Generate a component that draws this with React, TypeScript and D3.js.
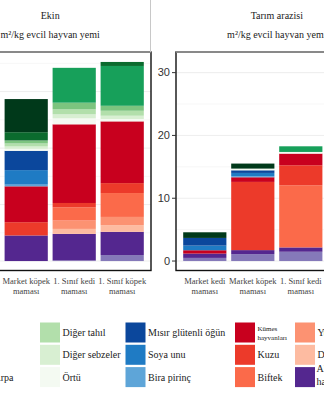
import React from 'react';
import * as d3 from 'd3';

const W = 324;
const H = 400;

const categories = ['Market kedi maması', 'Market köpek maması', '1. Sınıf kedi maması', '1. Sınıf köpek maması'];
const panelTitles = ['Ekin', 'Tarım arazisi'];
const stripSubtitle = 'm²/kg evcil hayvan yemi';

// stack order: first = top of the bar (legend order)
const ingredients = [
  'Buğday', 'Mısır', 'Pirinç', 'Arpa', 'Diğer tahıl', 'Diğer sebzeler', 'Örtü',
  'Mısır glütenli öğün', 'Soya unu', 'Bira pirinç',
  'Kümes hayvanları', 'Kuzu', 'Biftek', 'Yumurta', 'Domuz', 'Akuatik hayvanlar', 'Balık',
];
const ingredientColors = [
  '#00391a', '#0b6b2e', '#17a05a', '#7cc47f', '#b2dfab', '#d8efd2', '#f4faf2',
  '#0b479c', '#1f7bc4', '#5ea5d8',
  '#c8001e', '#ec3a2a', '#fb6a4a', '#fc9272', '#fdbba1', '#54278f', '#8579b9',
];

// Ekin panel values (per category, same order as ingredients); null = not visible
const ekinValues: (number[] | null)[] = [
  null,
  [0.587, 0.146, 0, 0.053, 0.053, 0.042, 0.035, 0.342, 0.257, 0.03, 0.635, 0.235, 0, 0, 0, 0.453, 0],
  [0, 0, 0.617, 0.118, 0.088, 0.071, 0.106, 0, 0, 0, 1.393, 0.076, 0.235, 0.148, 0.088, 0.469, 0.012],
  [0, 0.071, 0.705, 0.088, 0.088, 0.058, 0.042, 0, 0, 0, 1.093, 0.176, 0.423, 0.146, 0.118, 0.411, 0.106],
];
// Tarım arazisi panel values
const tarimValues: (number[] | null)[] = [
  [0.9, 0, 0, 0, 0, 0, 0, 1.22, 0.74, 0, 0.53, 0, 0, 0, 0, 0.69, 0.5],
  [0.8, 0, 0, 0, 0, 0, 0.27, 0.42, 0.53, 0.16, 0.74, 10.86, 0, 0, 0, 0.64, 1.1],
  [0, 0, 0.9, 0, 0, 0, 0.26, 0, 0, 0, 1.86, 3.18, 9.9, 0, 0, 0.69, 1.48],
  null,
];
// the tallest Tarım arazisi bar lies outside the picture; its total sets the axis
const tarimOffscreenMax = 31.7;

const legendColumns: (string | null)[][] = [
  [null, null, 'Arpa'],
  ['Diğer tahıl', 'Diğer sebzeler', 'Örtü'],
  ['Mısır glütenli öğün', 'Soya unu', 'Bira pirinç'],
  ['Kümes hayvanları', 'Kuzu', 'Biftek'],
  ['Yumurta', 'Domuz', 'Akuatik hayvanlar'],
];

const SERIF = "'Liberation Serif', 'Times New Roman', serif";
const SANS = "'Liberation Sans', Arial, sans-serif";

function buildStack(values: (number[] | null)[]) {
  const rows = categories
    .map((c, i) => {
      const v = values[i];
      if (!v) return null;
      const row: any = { category: c };
      ingredients.forEach((ing, j) => (row[ing] = v[j]));
      return row;
    })
    .filter(Boolean) as any[];
  const keys = ingredients.slice().reverse(); // bottom first
  const stack = d3.stack<any>().keys(keys).order(d3.stackOrderNone).offset(d3.stackOffsetNone);
  return { rows, series: stack(rows) };
}

export default function App() {
  const panelTop = 52;
  const panelBottom = 271;
  const step = 48;
  const panelW = step * 4.2;
  const panelLefts = [151 - panelW, 176];

  const panelData = [ekinValues, tarimValues].map((vals, p) => {
    const { rows, series } = buildStack(vals);
    const totals = rows.map((r) => d3.sum(ingredients, (k) => r[k]));
    let max = d3.max(totals) || 1;
    if (p === 1) max = Math.max(max, tarimOffscreenMax);
    const y = d3
      .scaleLinear()
      .domain([-0.05 * max, 1.05 * max])
      .range([panelBottom, panelTop]);
    const left = panelLefts[p];
    const x = d3
      .scaleBand<string>()
      .domain(categories)
      .range([left, left + panelW])
      .paddingInner(0.1)
      .paddingOuter(0.15);
    const majors = y.ticks(4).filter((t) => t >= 0);
    const tstep = majors.length > 1 ? majors[1] - majors[0] : 1;
    const minors = majors.map((t) => t + tstep / 2).filter((t) => t <= y.domain()[1]);
    return { series, y, x, left, majors, minors };
  });

  const colorOf = (k: string) => ingredientColors[ingredients.indexOf(k)];

  const legendColX = [-29, 40, 125.5, 235, 295];
  const legendRowY = [322.5, 344.8, 367.1];
  const keySize = 20;

  return (
    <svg
      width={W}
      height={H}
      style={{ position: 'absolute', left: 0, top: 0, background: '#fff' }}
    >
      <rect x={0} y={0} width={W} height={H} fill="#fff" />
      {panelData.map((pd, p) => (
        <g key={p}>
          {/* grid */}
          {pd.minors.map((t) => (
            <line key={'mi' + t} x1={pd.left} x2={pd.left + panelW} y1={pd.y(t)} y2={pd.y(t)} stroke="#f2f2f2" strokeWidth={0.6} />
          ))}
          {pd.majors.map((t) => (
            <line key={'ma' + t} x1={pd.left} x2={pd.left + panelW} y1={pd.y(t)} y2={pd.y(t)} stroke="#e8e8e8" strokeWidth={0.8} />
          ))}
          {/* bars */}
          {pd.series.map((s) =>
            s.map((d, i) => {
              const h = pd.y(d[0]) - pd.y(d[1]);
              if (h <= 0) return null;
              return (
                <rect
                  key={s.key + i}
                  x={pd.x(d.data.category)}
                  y={pd.y(d[1])}
                  width={pd.x.bandwidth()}
                  height={h}
                  fill={colorOf(s.key as string)}
                />
              );
            })
          )}
          {/* panel border */}
          <rect x={pd.left} y={panelTop} width={panelW} height={panelBottom - panelTop - 0.5} fill="none" stroke="#111" strokeWidth={1.4} />
          {/* strip */}
          <line x1={pd.left} x2={pd.left + panelW} y1={panelTop} y2={panelTop} stroke="#9a9a9a" strokeWidth={1.6} />
          {p === 0 && <line x1={pd.left + panelW - 0.5} x2={pd.left + panelW - 0.5} y1={0} y2={panelTop} stroke="#c8c8c8" strokeWidth={1} />}
          <text x={pd.left + panelW / 2} y={19} textAnchor="middle" fontFamily={SERIF} fontSize={10} fill="#222">
            {panelTitles[p]}
          </text>
          <text x={pd.left + panelW / 2} y={38} textAnchor="middle" fontFamily={SERIF} fontSize={10} fill="#222">
            {stripSubtitle}
          </text>
          {/* x labels */}
          {categories.map((c) => {
            const cx = (pd.x(c) as number) + pd.x.bandwidth() / 2;
            if (cx < 0 || cx > W) return null;
            const idx = c.lastIndexOf(' ');
            return (
              <text key={c} x={cx} textAnchor="middle" fontFamily={SERIF} fontSize={8.5} fill="#444">
                <tspan x={cx} y={283.5}>{c.slice(0, idx)}</tspan>
                <tspan x={cx} y={293.5}>{c.slice(idx + 1)}</tspan>
              </text>
            );
          })}
          {/* y axis for right panel */}
          {p === 1 &&
            pd.majors.map((t) => (
              <g key={'yt' + t}>
                <line x1={pd.left - 4} x2={pd.left} y1={pd.y(t)} y2={pd.y(t)} stroke="#333" strokeWidth={1} />
                <text x={pd.left - 6} y={pd.y(t)} dy="0.35em" textAnchor="end" fontFamily={SANS} fontSize={11} fill="#333">
                  {t}
                </text>
              </g>
            ))}
        </g>
      ))}
      {/* legend */}
      {legendColumns.map((col, ci) =>
        col.map((name, ri) => {
          if (!name) return null;
          const kx = legendColX[ci];
          const ky = legendRowY[ri];
          const lx = kx + keySize + 2.5;
          const cy = ky + keySize / 2;
          let label: React.ReactNode;
          if (name === 'Kümes hayvanları') {
            label = (
              <text fontFamily={SERIF} fontSize={7} fill="#222">
                <tspan x={lx} y={cy - 1.5}>Kümes</tspan>
                <tspan x={lx} y={cy + 7.5}>hayvanları</tspan>
              </text>
            );
          } else if (name === 'Akuatik hayvanlar') {
            label = (
              <text fontFamily={SERIF} fontSize={10} fill="#222">
                <tspan x={lx - 1} y={cy - 5.5}>Akuatik</tspan>
                <tspan x={lx - 1} y={cy + 8}>hayvanlar</tspan>
              </text>
            );
          } else {
            label = (
              <text x={lx} y={cy} dy="0.35em" fontFamily={SERIF} fontSize={10} fill="#222">
                {name}
              </text>
            );
          }
          return (
            <g key={name}>
              <rect x={kx} y={ky} width={keySize} height={keySize} fill={colorOf(name)} />
              {label}
            </g>
          );
        })
      )}
    </svg>
  );
}
